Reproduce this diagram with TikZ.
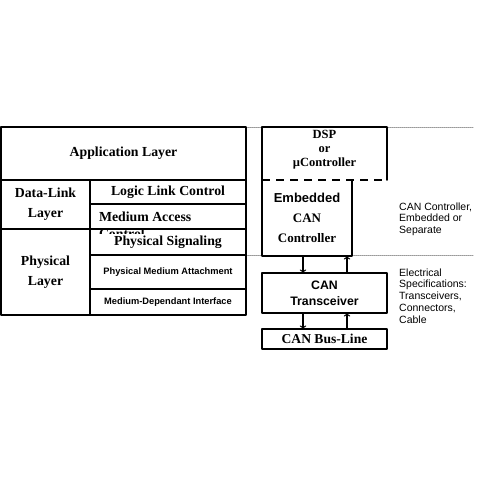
\documentclass[tikz,border=0pt]{standalone}
\usepackage{fontspec}
\setmainfont{Liberation Serif}
\setsansfont{Liberation Sans}
\usetikzlibrary{positioning}
\usetikzlibrary{calc}
\usetikzlibrary{arrows}

\tikzset{
	cell/.style={draw, line width=1.6pt, anchor=north west, inner sep=0pt, outer sep=0pt, align=center, font=\fontsize{13.8}{20}\selectfont\bfseries},
	sfcell/.style={cell, font=\fontsize{9.3}{11}\selectfont\sffamily\bfseries},
	blank/.style={anchor=north west, inner sep=0pt, outer sep=0pt},
	frame/.style={line width=1.6pt},
	label/.style={inner sep=0pt, align=center, font=\fontsize{12.5}{14}\selectfont\bfseries},
	note/.style={anchor=west, inner sep=0pt, align=left, font=\fontsize{10.5}{11.5}\selectfont\sffamily},
	guide/.style={gray!80, line width=1pt, densely dotted},
	arr/.style={->, line width=1.3pt}
}

\begin{document}
\begin{tikzpicture}[x=1pt, y=-1pt, line cap=round, line join=round]
	\useasboundingbox (0,0) rectangle (480,480);
	% guide lines
	\draw [guide] (246,127) -- (473,127);
	\draw [guide] (246,255.5) -- (473,255.5);
	% layer table
	\node [cell, minimum width=245pt, minimum height=53pt] (app) at (1,127) {Application Layer};
	\node [cell, minimum width=89pt, minimum height=49pt] (dll) at (app.south west) {Data-Link\\Layer};
	\node [cell, minimum width=156pt, minimum height=24pt] (llc) at (dll.north east) {Logic Link Control};
	\node [cell, minimum width=156pt, minimum height=25pt] (mac) at (llc.south west) {};
	\begin{scope}
		\clip (mac.north west) rectangle ($(mac.south east)+(0,4)$);
		\node [cell, draw=none, anchor=west] (macname) at ($(mac.west)+(9,0.5)$) {Medium Access};
		\node [cell, draw=none, anchor=west] (macrest) at ($(macname.west)+(0,17)$) {Control};
	\end{scope}
	\node [cell, minimum width=89pt, minimum height=86pt] (phl) at (dll.south west) {Physical\\Layer};
	\node [cell, minimum width=156pt, minimum height=26pt] (phs) at (mac.south west) {Physical Signaling};
	\node [sfcell, minimum width=156pt, minimum height=34pt] (pma) at (phs.south west) {Physical Medium Attachment};
	\node [sfcell, minimum width=156pt, minimum height=26pt] (mdi) at (pma.south west) {Medium-Dependant Interface};
	% controller side
	\node [blank, minimum width=125pt, minimum height=53pt] (dsp) at (262,127) {};
	\node [blank, minimum width=90pt, minimum height=76pt] (emb) at (dsp.south west) {};
	\draw [frame] (dsp.south west) |- (dsp.north east) -- (dsp.south east);
	\draw [frame, dash pattern=on 8pt off 6pt, line cap=butt] (dsp.south west) -- (dsp.south east);
	\draw [frame] (emb.north west) |- (emb.south east) -- (emb.north east);
	\node [label] (dspname) at ($(dsp.center)+(0,-4)$) {DSP\\or\\µController};
	\node [label, font=\fontsize{13}{20}\selectfont\bfseries] (embname) at (emb.center) {{\sffamily Embedded}\\CAN\\Controller};
	\node [cell, minimum width=125pt, minimum height=40pt, font=\fontsize{12.3}{16}\selectfont\sffamily\bfseries] (trx) at (262,273) {CAN\\Transceiver};
	\node [cell, minimum width=125pt, minimum height=20pt, font=\fontsize{13.6}{15}\selectfont\bfseries] (bus) at (262,329) {CAN Bus-Line};
	% arrows
	\coordinate (dn) at (303,0);
	\coordinate (up) at (347,0);
	\draw [arr] (emb.south -| dn) -- (trx.north -| dn);
	\draw [arr] (trx.north -| up) -- (emb.south -| up);
	\draw [arr] (trx.south -| dn) -- (bus.north -| dn);
	\draw [arr] (bus.north -| up) -- (trx.south -| up);
	% notes
	\node [note] (ctrlnote) at (399,219) {CAN Controller,\\Embedded or\\Separate};
	\node [note, font=\fontsize{10.5}{11.8}\selectfont\sffamily] (elecnote) at (399,296) {Electrical\\Specifications:\\Transceivers,\\Connectors,\\Cable};
\end{tikzpicture}
\end{document}
